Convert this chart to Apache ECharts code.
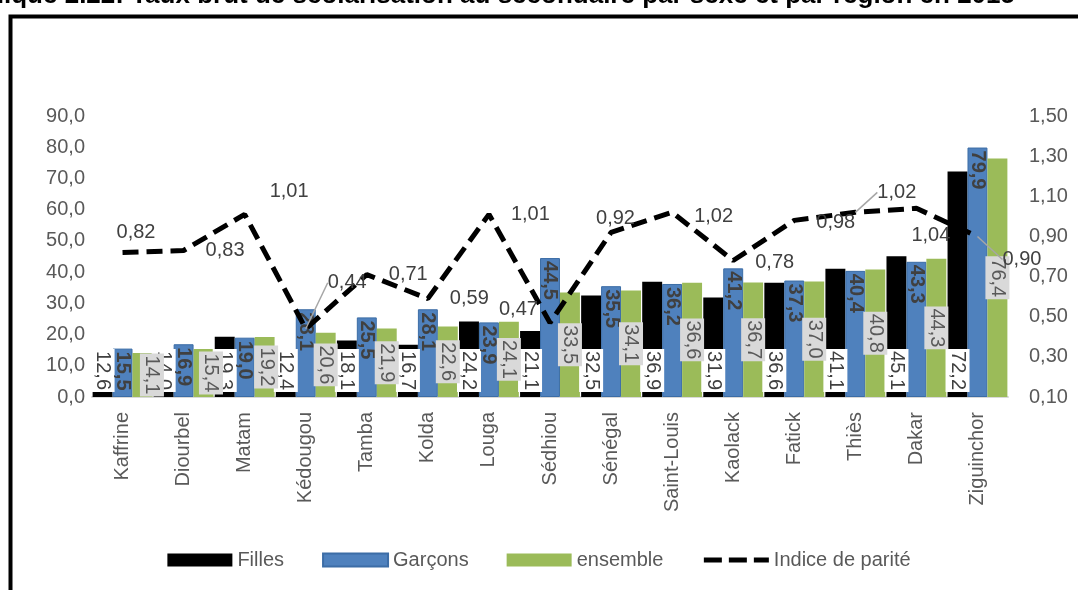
<!DOCTYPE html>
<html>
<head>
<meta charset="utf-8">
<title>Taux brut de scolarisation au secondaire</title>
<script src="https://cdn.jsdelivr.net/npm/echarts@6/dist/echarts.min.js"></script>
<style>
  html, body { margin: 0; padding: 0; background: #fff; }
  #chart { width: 1078px; height: 590px; }
</style>
</head>
<body>
<div id="chart"></div>
<script>
// régions, dans l'ordre du graphique
const regions = ['Kaffrine', 'Diourbel', 'Matam', 'Kédougou', 'Tamba', 'Kolda', 'Louga', 'Sédhiou', 'Sénégal', 'Saint-Louis', 'Kaolack', 'Fatick', 'Thiès', 'Dakar', 'Ziguinchor'];
const filles = [12.6, 14.0, 19.3, 12.4, 18.1, 16.7, 24.2, 21.1, 32.5, 36.9, 31.9, 36.6, 41.1, 45.1, 72.2];
const garcons = [15.5, 16.9, 19.0, 28.1, 25.5, 28.1, 23.9, 44.5, 35.5, 36.2, 41.2, 37.3, 40.4, 43.3, 79.9];
const ensemble = [14.1, 15.4, 19.2, 20.6, 21.9, 22.6, 24.1, 33.5, 34.1, 36.6, 36.7, 37.0, 40.8, 44.3, 76.4];
const indiceParite = [0.82, 0.83, 1.01, 0.44, 0.71, 0.59, 1.01, 0.47, 0.92, 1.02, 0.78, 0.98, 1.02, 1.04, 0.90];
const rightTicks = [0.10, 0.30, 0.50, 0.70, 0.90, 1.10, 1.30, 1.50];

const font = 'Liberation Sans';
const fmt1 = v => Number(v).toFixed(1).replace('.', ',');
const fmt2 = v => Number(v).toFixed(2).replace('.', ',');

// petits décalages des étiquettes de l'indice (comme dans Excel)
const labelShift = [[-28, -20], [0, 0], [3, -23], [0, -46], [0, 0], [0, 0], [0, 0], [-73, -13], [-37, -14], [0, 4], [0, 2], [0, 2], [0, -20], [-27, 27], [3, 23]];
// étiquettes reliées au point par un trait
const withLeader = [3, 12, 14];

const chart = echarts.init(document.getElementById('chart'));

const barLabel = {
  show: true,
  rotate: -90,
  verticalAlign: 'middle',
  fontSize: 20,
  fontFamily: font,
  textBorderWidth: 0,
  formatter: p => fmt1(p.value)
};

const option = {
  animation: false,
  title: {
    text: 'Graphique 2.22: Taux brut de scolarisation au secondaire par sexe et par région en 2015',
    right: 63,
    top: -17,
    padding: 0,
    textStyle: { fontSize: 26, fontWeight: 'bold', color: '#000', fontFamily: font, lineHeight: 26 }
  },
  graphic: [{
    type: 'rect',
    shape: { x: 10.5, y: 16.5, width: 1100, height: 620 },
    style: { fill: 'none', stroke: '#000', lineWidth: 4 },
    silent: true
  }],
  legend: {
    top: 545,
    left: 'center',
    itemWidth: 65,
    itemHeight: 13,
    itemGap: 38,
    textStyle: { fontSize: 20, color: '#595959', fontFamily: font },
    data: [
      { name: 'Filles', icon: 'rect' },
      { name: 'Garçons', icon: 'rect' },
      { name: 'ensemble', icon: 'rect' },
      {
        name: 'Indice de parité',
        itemStyle: { color: 'rgba(0,0,0,0)', borderWidth: 0 },
        lineStyle: { color: '#000', width: 5, type: [18, 7] }
      }
    ]
  },
  grid: { left: 92, right: 70, top: 116, bottom: 193 },
  xAxis: {
    type: 'category',
    data: regions,
    axisTick: { show: false },
    axisLine: { lineStyle: { color: '#d9d9d9', width: 2 } },
    axisLabel: { rotate: 90, interval: 0, margin: 15, color: '#595959', fontSize: 20, fontFamily: font }
  },
  yAxis: [
    {
      type: 'value',
      min: 0,
      max: 90,
      interval: 10,
      axisLine: { show: false },
      axisTick: { show: false },
      splitLine: { show: false },
      axisLabel: { formatter: v => fmt1(v), color: '#595959', fontSize: 20, fontFamily: font, margin: 7 }
    },
    {
      type: 'value',
      min: 0.1,
      max: 1.5,
      axisLine: { show: false },
      axisTick: { show: false },
      splitLine: { show: false },
      axisLabel: { customValues: rightTicks, formatter: v => fmt2(v), color: '#595959', fontSize: 20, fontFamily: font, margin: 21 }
    }
  ],
  series: [
    {
      name: 'Filles',
      type: 'bar',
      data: filles,
      barGap: '0%',
      barCategoryGap: '2%',
      itemStyle: { color: '#000000' },
      label: Object.assign({}, barLabel, {
        position: 'insideBottom',
        distance: 5,
        align: 'right',
        color: '#404040',
        backgroundColor: '#ffffff',
        padding: [2, 2, 2, 2]
      })
    },
    {
      name: 'Garçons',
      type: 'bar',
      data: garcons,
      barGap: '0%',
      barCategoryGap: '2%',
      itemStyle: { color: '#4f81bd', borderColor: '#3c6da6', borderWidth: 1 },
      label: Object.assign({}, barLabel, {
        position: 'insideTop',
        distance: 3,
        align: 'left',
        fontWeight: 'bold',
        color: '#404040'
      })
    },
    {
      name: 'ensemble',
      type: 'bar',
      data: ensemble,
      barGap: '0%',
      barCategoryGap: '2%',
      itemStyle: { color: '#9bbb59' },
      label: Object.assign({}, barLabel, {
        position: 'inside',
        align: 'center',
        color: '#595959',
        backgroundColor: '#d9d9d9',
        padding: [2, 2, 2, 2]
      }),
      // garder l'étiquette au-dessus de la base de la barre
      labelLayout: function (params) {
        const r = params.rect;
        const l = params.labelRect;
        const limit = r.y + r.height - 10;
        const bottom = l.y + l.height;
        return bottom > limit ? { dy: limit - bottom } : {};
      }
    },
    {
      name: 'Indice de parité',
      type: 'line',
      yAxisIndex: 1,
      z: 5,
      data: indiceParite.map((v, i) => ({
        value: v,
        labelLine: { show: withLeader.indexOf(i) >= 0 }
      })),
      symbol: 'circle',
      symbolSize: 0,
      itemStyle: { color: '#000' },
      lineStyle: { color: '#000', width: 5, type: [16, 8] },
      label: {
        show: true,
        position: 'right',
        distance: 22,
        color: '#404040',
        fontSize: 20,
        fontFamily: font,
        formatter: p => fmt2(p.value)
      },
      labelLine: { show: false, lineStyle: { color: '#a6a6a6', width: 1.5 } },
      labelLayout: function (params) {
        const s = labelShift[params.dataIndex];
        return { dx: s[0], dy: s[1] };
      }
    }
  ]
};

chart.setOption(option);
</script>
</body>
</html>
